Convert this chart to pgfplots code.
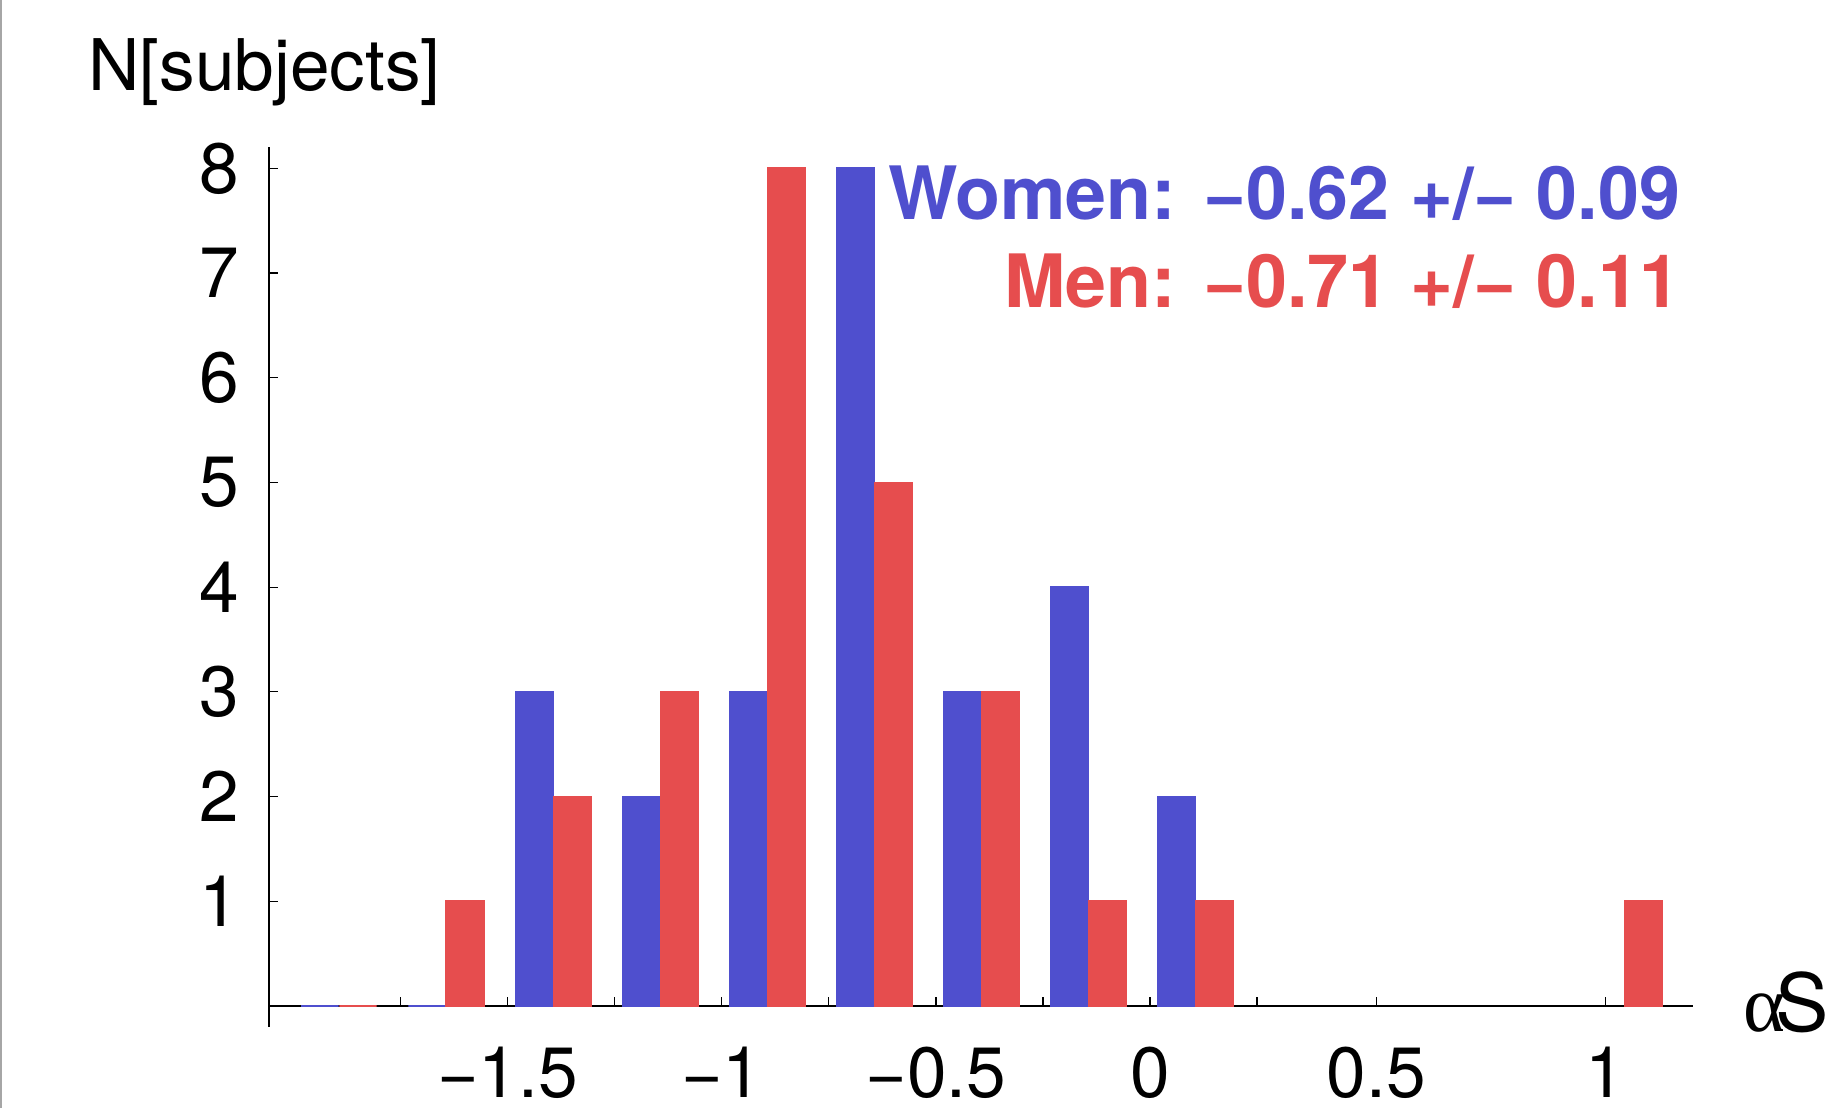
\documentclass[border=0pt]{standalone}
\usepackage{fontspec}
\setmainfont{TeX Gyre Heros}
\newfontfamily\serifalpha{Liberation Serif}
\usepackage{pgfplots}
\pgfplotsset{compat=1.18}
\definecolor{wblue}{RGB}{79,79,206}
\definecolor{mred}{RGB}{230,77,78}
\begin{document}
\begin{tikzpicture}
\begin{axis}[
  at={(0,0)}, anchor=south west,
  scale only axis, width=356.08pt, height=219.85pt,
  xmin=0.3464, xmax=13.646, ymin=-0.198, ymax=8.201,
  axis x line=middle, axis y line=left,
  axis line style={-, line width=0.4pt, black},
  tick align=inside,
  major tick length=2.33pt,
  tick style={black, line width=0.3pt},
  xtick={1.576,2.575,3.574,4.574,5.573,6.575,7.574,8.573,9.572,10.686,12.825},
  xticklabels={,−1.5,,−1,,−0.5,,0,,0.5,1},
  ytick={1,2,3,4,5,6,7,8},
  yticklabels={1,2,3,4,5,6,7,8},
  xticklabel style={anchor=north, inner sep=0pt, yshift=-10pt, font=\fontsize{17.8}{20}\selectfont},
  yticklabel style={anchor=east, inner sep=0pt, xshift=-7.4pt, font=\fontsize{17.8}{20}\selectfont},
  clip=false,
]
\addplot[ybar, bar width=0.35, bar shift=-0.1775, fill=wblue, draw=wblue, line width=0.45pt]
  coordinates {(1,0) (2,0) (3,3) (4,2) (5,3) (6,8) (7,3) (8,4) (9,2)};
\addplot[ybar, bar width=0.35, bar shift=0.1775, fill=mred, draw=mred, line width=0.45pt]
  coordinates {(1,0) (2,1) (3,2) (4,3) (5,8) (6,5) (7,3) (8,1) (9,1) (13,1)};
\end{axis}
\node[anchor=base west, inner sep=0pt, font=\fontsize{17.8}{20}\selectfont] at (-45.35pt,234pt) {N[subjects]};
\node[anchor=base east, inner sep=0pt, text=wblue, font=\fontsize{18.4}{22}\selectfont\bfseries] at (353pt,201.7pt) {Women: −0.62 +/− 0.09};
\node[anchor=base east, inner sep=0pt, text=mred, font=\fontsize{18.4}{22}\selectfont\bfseries] at (353pt,179.85pt) {Men: −0.71 +/− 0.11};
\node[anchor=base west, inner sep=0pt, font=\fontsize{20}{24}\selectfont] at (368.5pt,-1.1pt) {{\serifalpha α}\kern-2.5pt S};
\draw[gray!70, line width=0.5pt] (-67pt,-20.325pt) -- (-67pt,256.675pt);
\pgfresetboundingbox
\path (-67.25pt,-20.325pt) rectangle (391.5pt,256.675pt);
\end{tikzpicture}
\end{document}
